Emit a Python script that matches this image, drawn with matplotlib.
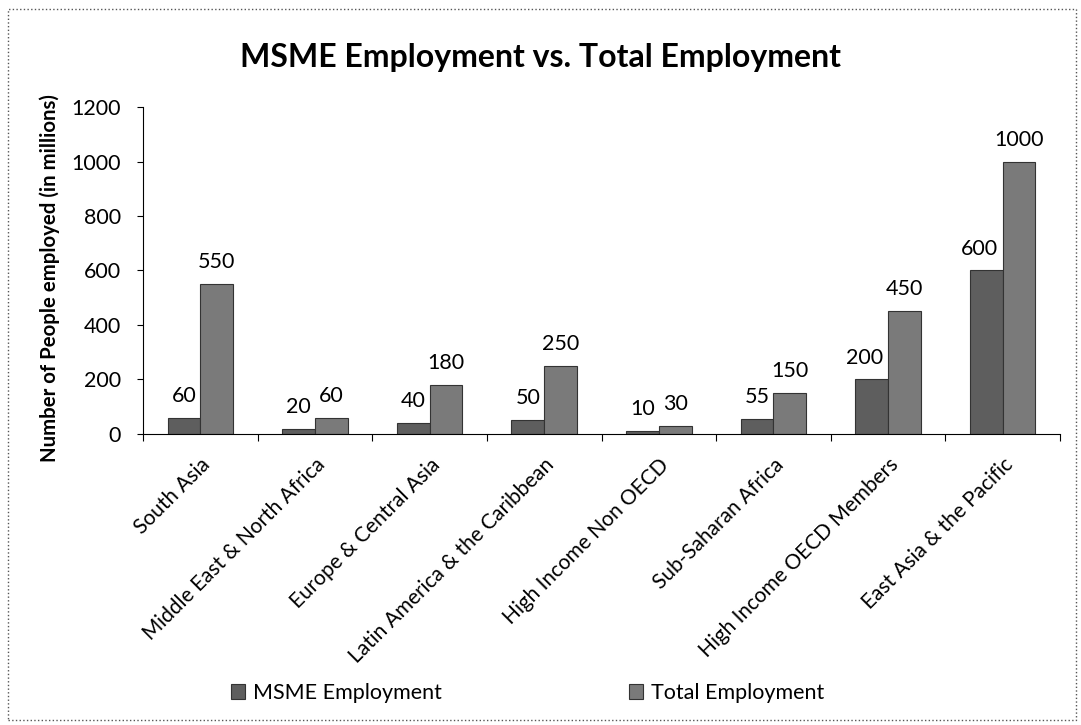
import numpy as np
import matplotlib
matplotlib.use("Agg")
import matplotlib.pyplot as plt
from matplotlib.patches import Rectangle

plt.rcParams['font.family'] = ['Lato', 'DejaVu Sans']

# === DATA ===
regions = ["South Asia", "Middle East & North Africa", "Europe & Central Asia",
           "Latin America & the Caribbean", "High Income Non OECD",
           "Sub-Saharan Africa", "High Income OECD Members", "East Asia & the Pacific"]
msme = [60, 20, 40, 50, 10, 55, 200, 600]
total = [550, 60, 180, 250, 30, 150, 450, 1000]
yticks = [0, 200, 400, 600, 800, 1000, 1200]

# === PLOT ===
fig = plt.figure(figsize=(10.81, 7.25), dpi=100)
ax = fig.add_axes([0.1323, 0.4014, 0.8483, 0.451])

x = np.arange(len(regions))
w = 0.2857
b1 = ax.bar(x - w / 2, msme, w, color="#5e5e5e", edgecolor="#333333", linewidth=0.8,
            label="MSME Employment")
b2 = ax.bar(x + w / 2, total, w, color="#7a7a7a", edgecolor="#333333", linewidth=0.8,
            label="Total Employment")

# data labels (3-digit MSME labels nudged left, as in the original)
for rect, v in zip(b1, msme):
    dx = -5 if v >= 100 else 0
    ax.annotate(str(v), xy=(rect.get_x() + rect.get_width() / 2, v),
                xytext=(dx, 11.5), textcoords="offset points",
                ha="center", va="baseline", fontsize=15.5)
for rect, v in zip(b2, total):
    ax.annotate(str(v), xy=(rect.get_x() + rect.get_width() / 2, v),
                xytext=(0, 11.5), textcoords="offset points",
                ha="center", va="baseline", fontsize=15.5)

ax.set_xlim(-0.5, len(regions) - 0.5)
ax.set_ylim(0, 1200)
ax.set_yticks(yticks)
ax.tick_params(axis="y", labelsize=15.5, length=4, direction="out", width=0.8, pad=12)

# category ticks sit between groups, labels at group centres
ax.set_xticks(np.arange(len(regions) + 1) - 0.5)
ax.set_xticklabels([])
ax.tick_params(axis="x", length=5, width=0.8)
for i, name in enumerate(regions):
    ax.annotate(name, xy=(i, 0), xytext=(0, -15), textcoords="offset points",
                rotation=45, rotation_mode="anchor", ha="right", va="top",
                fontsize=15)

for s in ["top", "right"]:
    ax.spines[s].set_visible(False)
ax.spines["left"].set_linewidth(0.8)
ax.spines["bottom"].set_linewidth(0.8)

ax.set_ylabel("Number of People employed (in millions)", fontsize=14.7,
              fontweight="bold")
ax.yaxis.set_label_coords(-0.09, 0.477)
fig.text(0.5, 0.92, "MSME Employment vs. Total Employment", ha="center",
         va="center", fontsize=23, fontweight="bold")

fig.legend(handles=[b1, b2], loc="center", bbox_to_anchor=(0.488, 0.044), ncol=2,
           frameon=False, fontsize=15.5, handlelength=0.65, handleheight=0.65,
           handletextpad=0.35, columnspacing=8.7)

# dotted frame round the chart
fig.patches.append(Rectangle((0.007, 0.007), 0.988, 0.98, transform=fig.transFigure,
                             fill=False, edgecolor="#555555", linestyle=":",
                             linewidth=1.0))

plt.savefig("out.png", dpi=100)
